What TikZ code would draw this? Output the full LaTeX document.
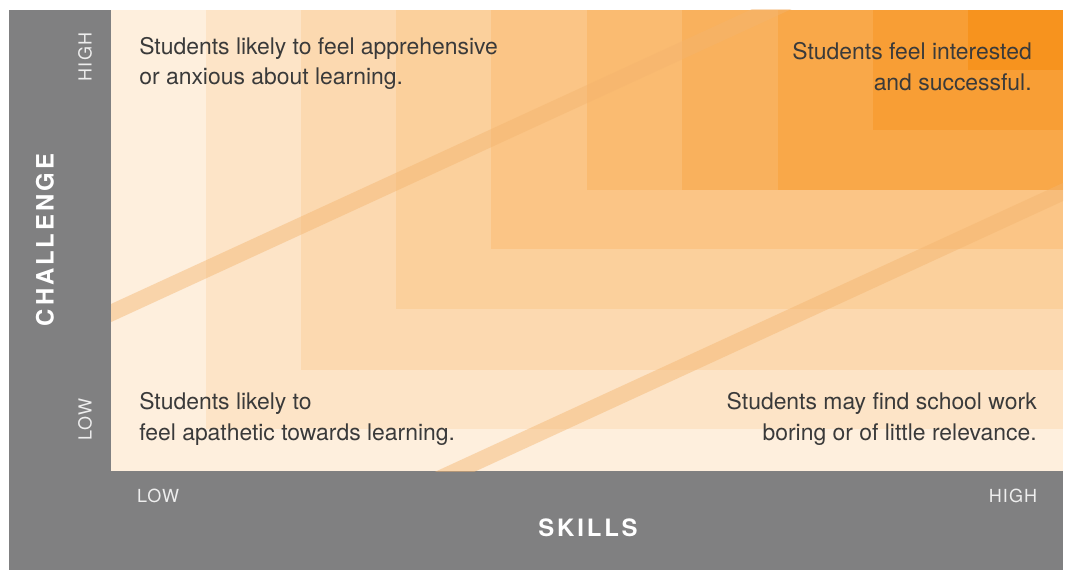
\documentclass[tikz,border=0pt]{standalone}
\usepackage{fontspec}
\setmainfont{TeX Gyre Heros}
\newfontfamily\titlefont[LetterSpace=12]{TeX Gyre Heros}
\newfontfamily\tickfont[LetterSpace=6]{TeX Gyre Heros}
\definecolor{flow}{HTML}{F7931E}
\definecolor{frame}{HTML}{808081}
\definecolor{band}{HTML}{F4B46E}
\definecolor{ink}{HTML}{3A3A3A}
\definecolor{tick}{HTML}{EEEEEE}

\begin{document}
\begin{tikzpicture}[x=0.025cm,y=-0.025cm,
  quad text/.style={inner sep=0pt,text=ink,font=\fontsize{16.3}{21.6}\selectfont},
  tick label/.style={inner sep=0pt,text=tick,font=\tickfont\fontsize{12.8}{14}\selectfont},
  axis title/.style={inner sep=0pt,text=white,font=\titlefont\bfseries\fontsize{17}{20}\selectfont},
  band line/.style={draw=band,opacity=0.45,line width=11.7pt}]
  \useasboundingbox (0,0) rectangle (1067,570);
  \fill[frame] (9,10) rectangle (1063,570);

  \fill[flow!15] (111,471) rectangle (1063,10);
  \fill[flow!25] (206,429) rectangle (1063,10);
  \fill[flow!35] (301,370) rectangle (1063,10);
  \fill[flow!44] (396,309) rectangle (1063,10);
  \fill[flow!54] (491,249) rectangle (1063,10);
  \fill[flow!63] (587,190) rectangle (1063,10);
  \fill[flow!72] (682,190) rectangle (1063,10);
  \fill[flow!81] (778,190) rectangle (1063,10);
  \fill[flow!90] (873,130) rectangle (1063,10);
  \fill[flow!100] (968,70) rectangle (1063,10);

  \coordinate (upper start) at (60,336.5);
  \coordinate (upper end) at (830,-17.7);
  \coordinate (lower start) at (400,497);
  \coordinate (lower end) at (1100,175);
  \begin{scope}
    \clip (111,471) rectangle (1063,10);
    \path[band line] (upper start) -- (upper end);
    \path[band line] (lower start) -- (lower end);
  \end{scope}

  \node[quad text,anchor=west,align=left] (anxious) at (139,63.5) {Students likely to feel apprehensive\\or anxious about learning.};
  \node[quad text,anchor=east,align=right] (interested) at (1032,66.5) {Students feel interested\\and successful.};
  \node[quad text,anchor=west,align=left] (apathetic) at (139,419) {Students likely to\\feel apathetic towards learning.};
  \node[quad text,anchor=east,align=right] (bored) at (1037,419) {Students may find school work\\boring or of little relevance.};

  \node[tick label,rotate=90] (challenge high) at (85,57) {HIGH};
  \node[tick label,rotate=90] (challenge low) at (85,420) {LOW};
  \node[axis title,rotate=90] (challenge) at (45,240) {CHALLENGE};
  \node[tick label] (skills low) at (158,496) {LOW};
  \node[tick label] (skills high) at (1013,496) {HIGH};
  \node[axis title] (skills) at (588,528) {SKILLS};
\end{tikzpicture}
\end{document}
